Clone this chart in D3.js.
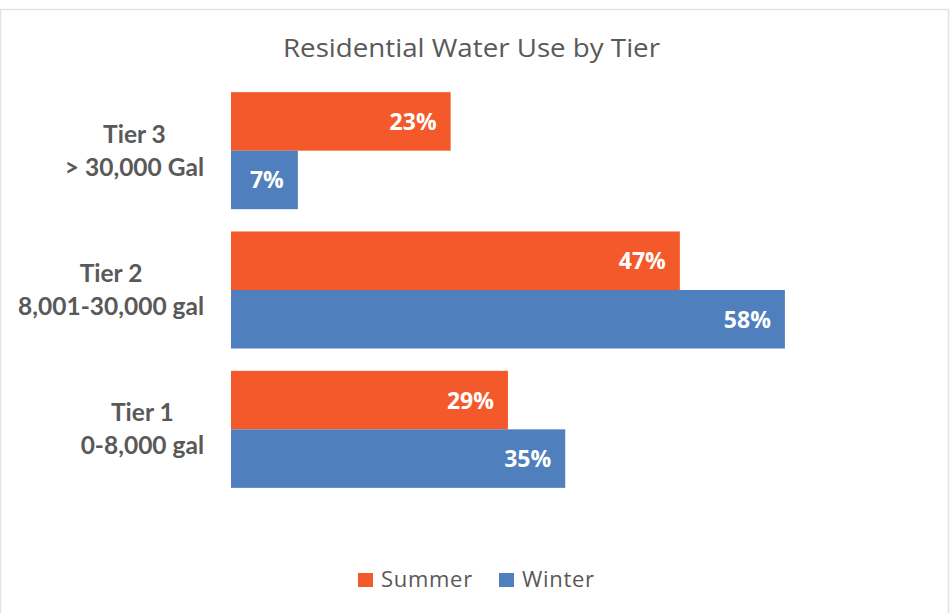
<!DOCTYPE html>
<html>
<head>
<meta charset="utf-8">
<script src="https://cdn.jsdelivr.net/npm/d3@7"></script>
<style>
html,body{margin:0;padding:0;background:#fff;}
svg{display:block;}
</style>
</head>
<body>
<svg id="chart" width="951" height="613"></svg>
<script>
const categories = ["Tier 3", "Tier 2", "Tier 1"];
const categorySubLabels = ["> 30,000 Gal", "8,001-30,000 gal", "0-8,000 gal"];
const seriesNames = ["Summer", "Winter"];
const summerValues = [23, 47, 29];
const winterValues = [7, 58, 35];
const colors = ["#F4592B", "#4F7FBC"];
const title = "Residential Water Use by Tier";

const svg = d3.select("#chart");
const SANS = "'Open Sans', sans-serif";
const LATO = "Lato, sans-serif";
const TEXT = "#595959";

// frame
svg.append("rect").attr("x", 0.5).attr("y", 9.5).attr("width", 948).attr("height", 610)
  .attr("fill", "#fff").attr("stroke", "#e2e2e2").attr("stroke-width", 1.5);

const tt = svg.append("text").attr("x", 471.5).attr("y", 57).attr("text-anchor", "middle")
  .attr("font-family", SANS).attr("font-size", 25).attr("fill", TEXT).text(title);
tt.attr("textLength", 377).attr("lengthAdjust", "spacingAndGlyphs");

const x = d3.scaleLinear().domain([0, 60]).range([231, 231 + 60 * 9.55]);
const y0 = d3.scaleBand().domain(categories).range([81, 499]).paddingInner(0.16).paddingOuter(0.08);
const y1 = d3.scaleBand().domain(seriesNames).range([0, y0.bandwidth()]);

const data = categories.map((c, i) => ({cat: c, sub: categorySubLabels[i], vals: [summerValues[i], winterValues[i]]}));

const groups = svg.selectAll("g.grp").data(data).enter().append("g")
  .attr("transform", d => `translate(0,${y0(d.cat)})`);

groups.selectAll("rect").data(d => d.vals.map((v, j) => ({v, s: seriesNames[j], j}))).enter()
  .append("rect")
  .attr("x", x(0)).attr("y", d => y1(d.s)).attr("width", d => x(d.v) - x(0))
  .attr("height", y1.bandwidth()).attr("fill", d => colors[d.j]);

groups.selectAll("text.val").data(d => d.vals.map((v, j) => ({v, s: seriesNames[j], j}))).enter()
  .append("text").attr("class", "val")
  .attr("x", d => x(d.v) - 14).attr("y", d => y1(d.s) + y1.bandwidth() / 2 + 8.5)
  .attr("text-anchor", "end").attr("font-family", SANS).attr("font-weight", "bold")
  .attr("font-size", 23).attr("fill", "#fff").text(d => d.v + "%");

// category labels: two lines centered on each other, block right-aligned
const labelRight = 204;
groups.each(function(d) {
  const g = d3.select(this);
  const cy = y0.bandwidth() / 2;
  const t1 = g.append("text").attr("font-family", LATO).attr("font-weight", "bold").attr("font-size", 24.5)
    .attr("fill", TEXT).attr("text-anchor", "middle").attr("y", cy - 8).text(d.cat);
  const t2 = g.append("text").attr("font-family", LATO).attr("font-weight", "bold").attr("font-size", 24.5)
    .attr("fill", TEXT).attr("text-anchor", "middle").attr("y", cy + 25).text(d.sub);
  const w = Math.max(t1.node().getComputedTextLength(), t2.node().getComputedTextLength());
  const cx = labelRight - w / 2;
  t1.attr("x", cx); t2.attr("x", cx);
});

// legend
const legend = svg.append("g");
const legItems = [{name: seriesNames[0], x: 358}, {name: seriesNames[1], x: 499}];
legItems.forEach((it, i) => {
  legend.append("rect").attr("x", it.x).attr("y", 573).attr("width", 15).attr("height", 14).attr("fill", colors[i]);
  legend.append("text").attr("x", it.x + 23).attr("y", 587).attr("font-family", SANS)
    .attr("font-size", 22).attr("letter-spacing", 0.7).attr("fill", TEXT).text(it.name);
});
</script>
</body>
</html>
